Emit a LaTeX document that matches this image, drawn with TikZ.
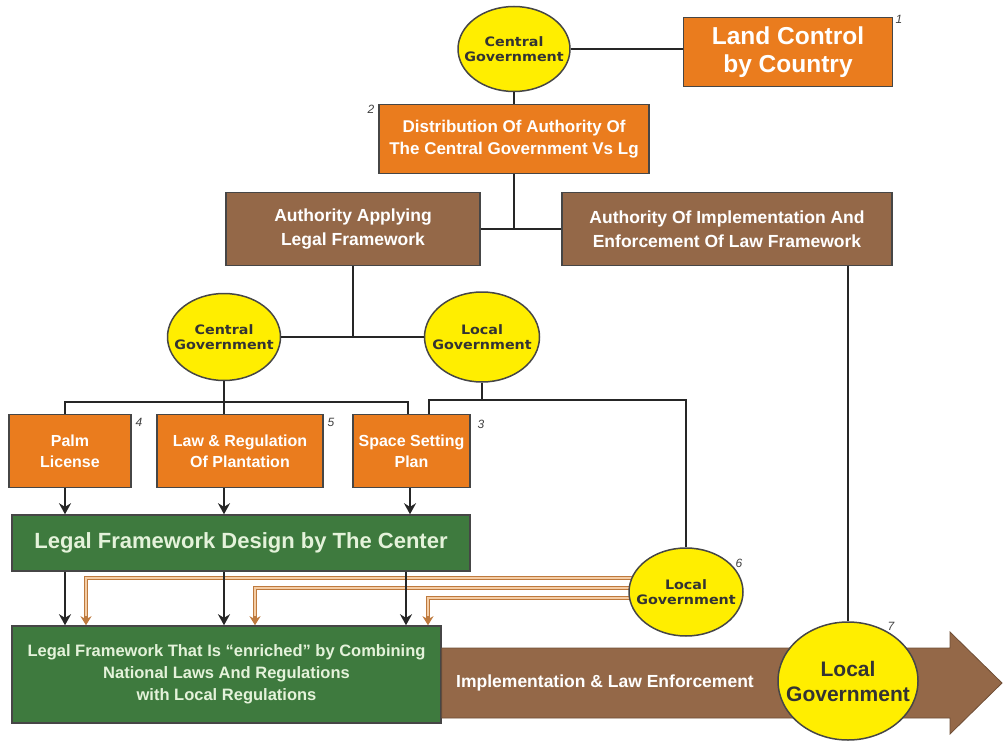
\documentclass[tikz,border=0pt]{standalone}
\usepackage{fontspec}
\setmainfont{Liberation Sans}
\newfontfamily\wid[FakeStretch=1.1]{DejaVu Sans}
\usetikzlibrary{shapes.geometric,arrows.meta}
\definecolor{orng}{RGB}{234,124,30}
\definecolor{brwn}{RGB}{148,104,72}
\definecolor{grn}{RGB}{62,122,62}
\definecolor{yel}{RGB}{255,238,0}
\definecolor{bord}{RGB}{70,70,70}
\definecolor{otl}{RGB}{190,122,62}
\definecolor{oin}{RGB}{245,205,165}
\definecolor{ltg}{RGB}{228,242,218}
\pgfdeclarelayer{bg}\pgfsetlayers{bg,main}
\begin{document}
\begin{tikzpicture}[x=1pt,y=-1pt,
 box/.style={draw=bord,line width=1.5pt,rectangle,inner sep=2pt,align=center,text=white},
 obox/.style={box,fill=orng},
 bbox/.style={box,fill=brwn},
 gbox/.style={box,fill=grn},
 gov/.style={ellipse,draw=bord,line width=1.5pt,fill=yel,inner xsep=-12pt,inner ysep=0pt,align=center,text=black!80,font=\wid\bfseries\fontsize{13}{15}\selectfont},
 conn/.style={line width=2.8pt,draw=black!85},
 arr/.style={conn,-{Stealth[length=11pt,width=12pt]}},
 oarr/.style={line width=3.4pt,draw=otl,-{Stealth[length=9pt,width=11pt]}},
 oinner/.style={line width=1.2pt,draw=oin,shorten >=9pt},
 num/.style={font=\itshape\fontsize{12}{13}\selectfont,text=black!75,inner sep=0pt}]

\useasboundingbox (0,0) rectangle (1003,746);

% top
\node[gov,minimum width=112pt,minimum height=85pt] (cg1) at (514,49) {Central\\Government};
\node[obox,minimum width=209pt,minimum height=69pt,font=\bfseries\fontsize{24.5}{28}\selectfont] (land) at (788,52) {Land Control\\by Country};
\node[obox,minimum width=270pt,minimum height=69pt,font=\bfseries\fontsize{17}{22}\selectfont] (dist) at (514,139) {Distribution Of Authority Of\\The Central Government Vs Lg};
\node[bbox,minimum width=254pt,minimum height=73pt,font=\bfseries\fontsize{17.5}{24}\selectfont] (aa) at (353,229) {Authority Applying\\Legal Framework};
\node[bbox,minimum width=330pt,minimum height=73pt,font=\bfseries\fontsize{17.5}{24}\selectfont] (ai) at (727,229) {Authority Of Implementation And\\Enforcement Of Law Framework};

\node[gov,minimum width=113pt,minimum height=87pt] (cg2) at (224,337) {Central\\Government};
\node[gov,minimum width=115pt,minimum height=90pt] (lg2) at (482,337) {Local\\Government};

\node[obox,minimum width=122pt,minimum height=73pt,font=\bfseries\fontsize{16}{21}\selectfont] (palm) at (70,451) {Palm\\License};
\node[obox,minimum width=166pt,minimum height=73pt,font=\bfseries\fontsize{16}{21}\selectfont] (law) at (240,451) {Law \& Regulation\\Of Plantation};
\node[obox,minimum width=117pt,minimum height=73pt,font=\bfseries\fontsize{16}{21}\selectfont] (space) at (411.5,451) {Space Setting\\Plan};

\node[gbox,minimum width=458pt,minimum height=56pt,text=ltg,font=\bfseries\fontsize{22}{25}\selectfont] (gf1) at (241,543) {Legal Framework Design by The Center};
\node[gbox,minimum width=429pt,minimum height=97pt,text=ltg,font=\bfseries\fontsize{16.5}{22}\selectfont] (gf2) at (226.5,674.5) {Legal Framework That Is ``enriched'' by Combining\\National Laws And Regulations\\with Local Regulations};

\node[gov,minimum width=114pt,minimum height=88pt] (lg6) at (686,592) {Local\\Government};

% big arrow
\draw[fill=brwn,draw=brwn!75!black,line width=0.8pt] (gf2.east |- 0,648) -- (950,648) -- (950,632) -- (1002,683) -- (950,734) -- (950,718) -- (gf2.east |- 0,718) -- cycle;
\node[font=\bfseries\fontsize{17.5}{20}\selectfont,text=white] (impl) at (605,683) {Implementation \& Law Enforcement};
\node[gov,minimum width=140pt,minimum height=118pt,inner xsep=-18pt,font=\bfseries\fontsize{21}{25}\selectfont] (lg7) at (848,681) {Local\\Government};

% numbers
\node[num] (n1) at (899,19) {1};
\node[num] (n2) at (371,109) {2};
\node[num] (n4) at (139,422) {4};
\node[num] (n5) at (331,422) {5};
\node[num] (n3) at (481,424) {3};
\node[num] (n6) at (739,563) {6};
\node[num] (n7) at (891,626) {7};

% helper coordinates
\coordinate (xa) at (65,0);
\coordinate (xc) at (408,0);
\coordinate (xd) at (406,0);
\coordinate (xe) at (410,0);
\coordinate (xl) at (429,0);
\coordinate (yb) at (0,402);
\coordinate (yl) at (0,400);
\coordinate (xo1) at (86,0);
\coordinate (xo2) at (255,0);
\coordinate (xo3) at (428,0);
\coordinate (yo1) at (0,578);
\coordinate (yo2) at (0,588);
\coordinate (yo3) at (0,598);

% connectors
\draw[conn] (cg1.east) -- (cg1.east -| land.west);
\draw[conn] (cg1.south) -- (dist.north);
\draw[conn] (dist.south) -- (dist.south |- aa.east);
\draw[conn] (aa.east) -- (ai.west);
\draw[conn] (aa.south) -- (aa.south |- cg2.east);
\draw[conn] (cg2.east) -- (lg2.west);
\draw[conn] (cg2.south) -- (cg2.south |- yb);
\draw[conn] (palm.north -| xa) |- (cg2.south |- yb) -| (space.north -| xc);
\draw[conn] (cg2.south |- yb) -- (cg2.south |- law.north);
\draw[conn] (lg2.south) -- (lg2.south |- yl);
\draw[conn] (space.north -| xl) |- (lg2.south |- yl) -| (lg6.north);
\draw[conn] (ai.south -| lg7.north) -- (lg7.north);

\draw[arr] (palm.south -| xa) -- (gf1.north -| xa);
\draw[arr] (law.south -| cg2.south) -- (gf1.north -| cg2.south);
\draw[arr] (space.south -| xe) -- (gf1.north -| xe);
\draw[arr] (gf1.south -| xa) -- (gf2.north -| xa);
\draw[arr] (gf1.south -| cg2.south) -- (gf2.north -| cg2.south);
\draw[arr] (gf1.south -| xd) -- (gf2.north -| xd);

\begin{pgfonlayer}{bg}
\draw[oarr] (lg6.center |- yo1) -| (gf2.north -| xo1);
\draw[oarr] (lg6.center |- yo2) -| (gf2.north -| xo2);
\draw[oarr] (lg6.center |- yo3) -| (gf2.north -| xo3);
\draw[oinner] (lg6.center |- yo1) -| (gf2.north -| xo1);
\draw[oinner] (lg6.center |- yo2) -| (gf2.north -| xo2);
\draw[oinner] (lg6.center |- yo3) -| (gf2.north -| xo3);
\end{pgfonlayer}
\end{tikzpicture}
\end{document}
